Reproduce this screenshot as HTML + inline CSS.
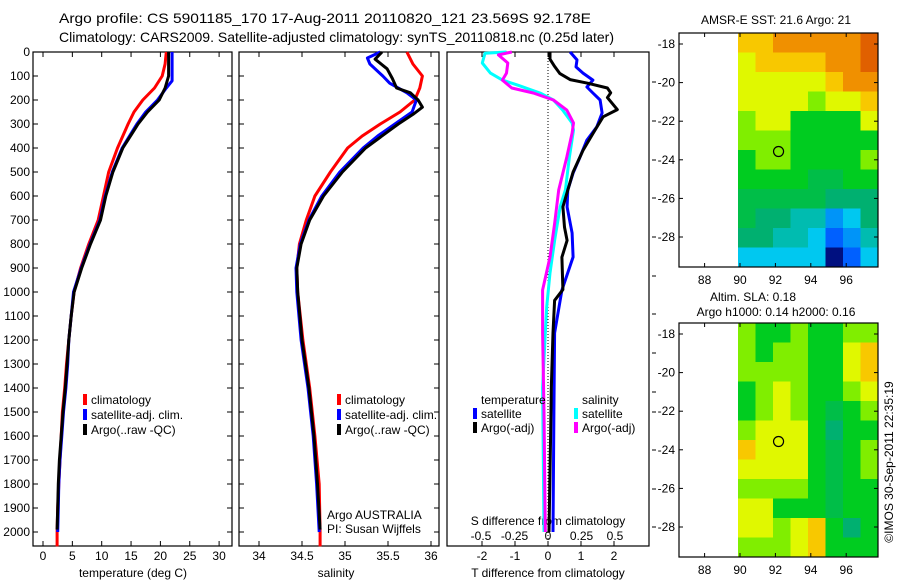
<!DOCTYPE html>
<html><head><meta charset="utf-8">
<style>
body{margin:0;background:#fff;width:900px;height:580px;overflow:hidden}
svg{font-family:"Liberation Sans",sans-serif;font-size:12px}
</style></head>
<body>
<svg id="fig" width="900" height="580" viewBox="0 0 900 580" xmlns="http://www.w3.org/2000/svg">
<text x="59" y="23" font-size="14" textLength="532" lengthAdjust="spacingAndGlyphs">Argo profile: CS 5901185_170 17-Aug-2011 20110820_121 23.569S 92.178E</text>
<text x="59" y="42" font-size="14" textLength="555" lengthAdjust="spacingAndGlyphs">Climatology: CARS2009. Satellite-adjusted climatology: synTS_20110818.nc (0.25d later)</text>
<text x="776" y="24" text-anchor="middle">AMSR-E SST: 21.6 Argo: 21</text>
<text x="753" y="301" text-anchor="middle">Altim. SLA: 0.18</text>
<text x="776" y="316" text-anchor="middle">Argo h1000: 0.14 h2000: 0.16</text>
<text transform="translate(893,462) rotate(-90)" text-anchor="middle">©IMOS 30-Sep-2011 22:35:19</text>
</svg>
<script>
// ---------- data ----------
const depthTicks=[0,100,200,300,400,500,600,700,800,900,1000,1100,1200,1300,1400,1500,1600,1700,1800,1900,2000];
const tempTicks=[0,5,10,15,20,25,30];
const salTicks=[34,34.5,35,35.5,36];
const salTickLabels=["34","34.5","35","35.5","36"];
const dTTicks=[-2,-1,0,1,2];
const dSTicks=[-0.5,-0.25,0,0.25,0.5];
const dSTickLabels=["-0.5","-0.25","0","0.25","0.5"];

const tClimDepth=[0,50,100,150,200,250,300,400,500,600,700,800,900,1000,1100,1200,1300,1400,1500,1600,1700,1800,1900,2000,2060];
const tClim=[21.0,20.8,20.3,19.0,17.0,15.5,14.5,12.7,11.2,10.3,9.4,7.8,6.4,5.3,4.8,4.4,4.0,3.7,3.3,3.1,2.9,2.7,2.5,2.4,2.4];
const tSatDepth=[0,120,150,200,250,300,400,500,600,700,800,900,1000,1100,1200,1300,1400,1500,1600,1700,1800,1900,2000];
const tSat=[22.0,22.0,21.0,19.5,17.5,16.0,13.5,11.8,10.6,9.7,8.0,6.5,5.2,4.8,4.4,4.2,3.9,3.5,3.2,2.9,2.7,2.6,2.5];
const tArgoDepth=[0,100,150,200,250,300,400,500,600,700,800,900,1000,1100,1200,1300,1400,1500,1600,1700,1800,1900,1990];
const tArgo=[21.4,21.4,20.8,19.8,17.8,16.2,13.6,11.9,10.7,9.8,8.1,6.6,5.3,4.8,4.4,4.1,3.8,3.4,3.1,2.8,2.6,2.5,2.4];

const sClimDepth=[0,50,100,150,200,250,300,350,400,500,600,700,800,900,1000,1100,1200,1400,1600,1800,2000,2060];
const sClim=[35.72,35.79,35.9,35.87,35.81,35.64,35.41,35.2,35.03,34.83,34.65,34.55,34.47,34.44,34.45,34.48,34.51,34.59,34.65,34.7,34.71,34.71];
const sSatDepth=[0,25,50,100,130,170,200,250,300,350,400,500,600,700,800,900,1000,1200,1400,1600,1800,2000];
const sSat=[35.41,35.26,35.29,35.44,35.52,35.72,35.83,35.78,35.58,35.38,35.21,34.94,34.73,34.58,34.48,34.43,34.44,34.49,34.57,34.63,34.67,34.7];
const sArgoDepth=[0,30,70,110,150,170,200,230,260,300,400,500,600,700,800,900,1000,1200,1400,1600,1800,1990];
const sArgo=[35.43,35.35,35.49,35.55,35.6,35.76,35.85,35.9,35.79,35.62,35.24,34.97,34.75,34.59,34.49,34.44,34.45,34.5,34.58,34.64,34.68,34.71];

const dTArgoDepth=[0,30,60,90,115,130,150,170,190,240,270,340,410,500,645,730,785,855,990,1035,1170,1400,1600,2000];
const dTArgo=[0.06,0.06,0.2,0.36,0.67,1.2,1.8,1.9,1.8,2.1,1.67,1.36,1.06,0.76,0.45,0.5,0.58,0.42,0.45,0.2,0.15,0.1,0.08,0.03];
const dTSatDepth=[0,33,62,88,117,146,171,200,254,312,367,438,504,575,646,754,854,992,1171,1500,2000];
const dTSat=[0.67,0.88,0.85,1.06,1.36,1.18,1.36,1.58,1.64,1.48,1.18,0.97,0.76,0.6,0.58,0.73,0.76,0.42,0.2,0.18,0.15];
const dSSatDepth=[0,5,46,88,117,137,171,200,242,296,325,438,575,646,783,921,1062,1171,1400,2000];
const dSSat=[-0.31,-0.47,-0.49,-0.43,-0.34,-0.23,-0.06,0.04,0.11,0.18,0.19,0.16,0.13,0.09,0.05,0.015,-0.01,-0.02,-0.04,-0.03];
const dSArgoDepth=[0,12,46,88,117,150,171,200,242,296,338,438,575,712,854,992,1171,1500,2000];
const dSArgo=[-0.27,-0.37,-0.3,-0.31,-0.34,-0.27,-0.11,0.04,0.14,0.19,0.18,0.14,0.08,0.05,0.015,-0.04,-0.04,-0.03,-0.02];

const lonTicks=[88,90,92,94,96];
const latTicks=[-18,-20,-22,-24,-26,-28];
const sstGrid=[
[7,7,8,8,8,8,8,9],[6,7,7,7,7,8,8,9],[6,6,6,6,6,7,8,8],[6,6,6,6,5,6,6,7],
[5,6,6,4,4,4,4,6],[5,5,5,4,4,4,4,4],[4,5,5,4,4,4,4,5],[4,4,4,4,3.5,3.5,4,4],
[3.5,3.5,3.5,3.5,3.5,3,3,3],[3.5,3,3,2.5,2.5,1.5,2,3],[3,3,2.5,2.5,2,1,1.5,2.5],[2,2,2,2,2,0,1,2]];
const slaGrid=[
[5,4,4,5,4,4,5,5],[5,4,5,5,4,4,6,7],[5,5,5,5,4,4,6,7],[4,5,6,5,4,4,5,6],
[4,5,6,5,4,3.5,4,5],[5,6,6,6,4,3,4,4],[7,6,6,6,4,3.5,4,5],[6,6,6,6,4,3.5,4,5],
[5,5,5,5,4,3.5,4,4],[6,6,4,4,4,3.5,4,4],[6,6,5,6,7,4,3,4],[5,5,5,6,7,4,4,4]];
const argoLon=92.178, argoLat=-23.569;

// ---------- helpers ----------
const svg=document.getElementById('fig');
const NS='http://www.w3.org/2000/svg';
function mk(tag,attrs,parent){const e=document.createElementNS(NS,tag);for(const k in attrs)e.setAttribute(k,attrs[k]);(parent||svg).appendChild(e);return e;}
const yD=d=>52+d*0.24;
const PT=[33,232],PS=[239,439],PD=[447,649],TOP=52,BOT=546;
const xT=v=>43+v*5.87, xS=v=>259+(v-34)*86, xdT=v=>548+v*33, xdS=v=>548+v*134;

function frame(x0,x1,name){const r=mk('rect',{x:x0,y:TOP,width:x1-x0,height:BOT-TOP,fill:'none',stroke:'#000','stroke-width':1.2});

depthTicks.forEach(d=>{mk('line',{x1:x0,x2:x0+5,y1:yD(d),y2:yD(d),stroke:'#000'});mk('line',{x1:x1,x2:x1-5,y1:yD(d),y2:yD(d),stroke:'#000'});});}
function xticks(vals,labels,fx,y,name){vals.forEach((v,i)=>{const x=fx(v);
mk('line',{x1:x,x2:x,y1:TOP,y2:TOP+5,stroke:'#000'});mk('line',{x1:x,x2:x,y1:BOT,y2:BOT-5,stroke:'#000'});
const t=mk('text',{x:x,y:y,'text-anchor':'middle'});t.textContent=labels[i];
});}
function line(depths,vals,fx,color,name){const p=mk('polyline',{points:depths.map((d,i)=>fx(vals[i]).toFixed(1)+','+yD(d).toFixed(1)).join(' '),fill:'none',stroke:color,'stroke-width':3,'stroke-linejoin':'round'});
}
function txt(x,y,s,name,anchor){const t=mk('text',{x:x,y:y,'text-anchor':anchor||'start'});t.textContent=s;
return t;}
function leg(x,y,color,s,name){mk('rect',{x:x,y:y-10,width:4,height:11,fill:color});txt(x+8,y,s,name);}

depthTicks.forEach(d=>{txt(30,yD(d)+4,String(d),'depth-tick-label','end');});

frame(PT[0],PT[1],'temperature-panel');
xticks(tempTicks,tempTicks.map(String),xT,560,'temperature-tick-label');
txt(133,577,'temperature (deg C)','temperature-axis-title','middle');
line(tClimDepth,tClim,xT,'#ff0000','temperature-climatology-line');
line(tSatDepth,tSat,xT,'#0000ff','temperature-satellite-line');
line(tArgoDepth,tArgo,xT,'#000000','temperature-argo-line');
leg(83,404,'#ff0000','climatology','legend-climatology');
leg(83,419,'#0000ff','satellite-adj. clim.','legend-satellite');
leg(83,434,'#000000','Argo(..raw -QC)','legend-argo');

frame(PS[0],PS[1],'salinity-panel');
xticks(salTicks,salTickLabels,xS,560,'salinity-tick-label');
txt(336,577,'salinity','salinity-axis-title','middle');
line(sClimDepth,sClim,xS,'#ff0000','salinity-climatology-line');
line(sSatDepth,sSat,xS,'#0000ff','salinity-satellite-line');
line(sArgoDepth,sArgo,xS,'#000000','salinity-argo-line');
leg(337,404,'#ff0000','climatology','legend-sal-climatology');
leg(337,419,'#0000ff','satellite-adj. clim.','legend-sal-satellite');
leg(337,434,'#000000','Argo(..raw -QC)','legend-sal-argo');
txt(327,519,'Argo AUSTRALIA','argo-australia-label');
txt(327,533,'PI: Susan Wijffels','pi-label');

const fr=mk('rect',{x:PD[0],y:TOP,width:PD[1]-PD[0],height:BOT-TOP,fill:'none',stroke:'#000','stroke-width':1.2});

[82,121,160,198,237,276,314,353,392,412,450,489,527].forEach(y=>mk('line',{x1:652,x2:656,y1:y,y2:y,stroke:'#000'}));
dTTicks.forEach(v=>{mk('line',{x1:xdT(v),x2:xdT(v),y1:TOP,y2:TOP+5,stroke:'#000'});mk('line',{x1:xdT(v),x2:xdT(v),y1:BOT,y2:BOT-5,stroke:'#000'});txt(xdT(v),560,String(v),'t-diff-tick-label','middle');});
dSTicks.forEach((v,i)=>txt(xdS(v),540,dSTickLabels[i],'s-diff-tick-label','middle'));
txt(548,577,'T difference from climatology','t-diff-axis-title','middle');
txt(548,525,'S difference from climatology','s-diff-axis-title','middle');
const zl=mk('line',{x1:548,x2:548,y1:TOP,y2:BOT,stroke:'#000','stroke-dasharray':'1,2'});

line(dSSatDepth,dSSat,xdS,'#00ffff','s-diff-satellite-line');
line(dSArgoDepth,dSArgo,xdS,'#ff00ff','s-diff-argo-line');
line(dTSatDepth,dTSat,xdT,'#0000ff','t-diff-satellite-line');
line(dTArgoDepth,dTArgo,xdT,'#000000','t-diff-argo-line');
txt(481,404,'temperature','legend-temperature-heading');
txt(582,404,'salinity','legend-salinity-heading');
leg(473,418,'#0000ff','satellite','legend-t-satellite');
leg(473,432,'#000000','Argo(-adj)','legend-t-argo');
leg(574,418,'#00ffff','satellite','legend-s-satellite');
leg(574,432,'#ff00ff','Argo(-adj)','legend-s-argo');

const stops=[[0,[0,16,128]],[1,[0,96,255]],[2,[0,200,240]],[3,[0,176,112]],[4,[0,204,32]],[5,[128,238,0]],[6,[224,248,0]],[7,[248,200,0]],[8,[240,144,0]],[9,[224,96,0]]];
function cmap(v){for(let i=0;i<stops.length-1;i++){const[a,ca]=stops[i],[b,cb]=stops[i+1];if(v<=b){const f=(v-a)/(b-a);return 'rgb('+ca.map((c,k)=>Math.round(c+(cb[k]-c)*f)).join(',')+')';}}return 'rgb(224,96,0)';}
function map(y0,grid,name){
const x0=679,x1=878,y1=y0+234;
const lx=v=>740+(v-90)*17.7, ly=v=>y0+11+(-18-v)*19.3;
const g=mk('g',{});
const rows=grid.length,cols=grid[0].length,cw=(x1-738)/cols,ch=(y1-y0)/rows;
grid.forEach((row,r)=>row.forEach((v,c)=>{const cell=mk('rect',{x:738+c*cw,y:y0+r*ch,width:cw+0.5,height:ch+0.5,fill:cmap(v)},g);
}));
mk('rect',{x:x0,y:y0,width:x1-x0,height:y1-y0,fill:'none',stroke:'#000','stroke-width':1.2});
lonTicks.forEach(v=>{mk('line',{x1:lx(v),x2:lx(v),y1:y0,y2:y0+4,stroke:'#000'});mk('line',{x1:lx(v),x2:lx(v),y1:y1,y2:y1-4,stroke:'#000'});txt(lx(v),y1+17,String(v),'lon-tick-label','middle');});
latTicks.forEach(v=>{mk('line',{x1:x0,x2:x0+4,y1:ly(v),y2:ly(v),stroke:'#000'});mk('line',{x1:x1,x2:x1-4,y1:ly(v),y2:ly(v),stroke:'#000'});txt(x0-4,ly(v)+4,String(v),'lat-tick-label','end');});
const m=mk('circle',{cx:lx(argoLon),cy:ly(argoLat),r:5,fill:'none',stroke:'#000','stroke-width':1.2});
}
map(33,sstGrid,'sst-map');
map(323,slaGrid,'sla-map');
</script>
</body></html>
